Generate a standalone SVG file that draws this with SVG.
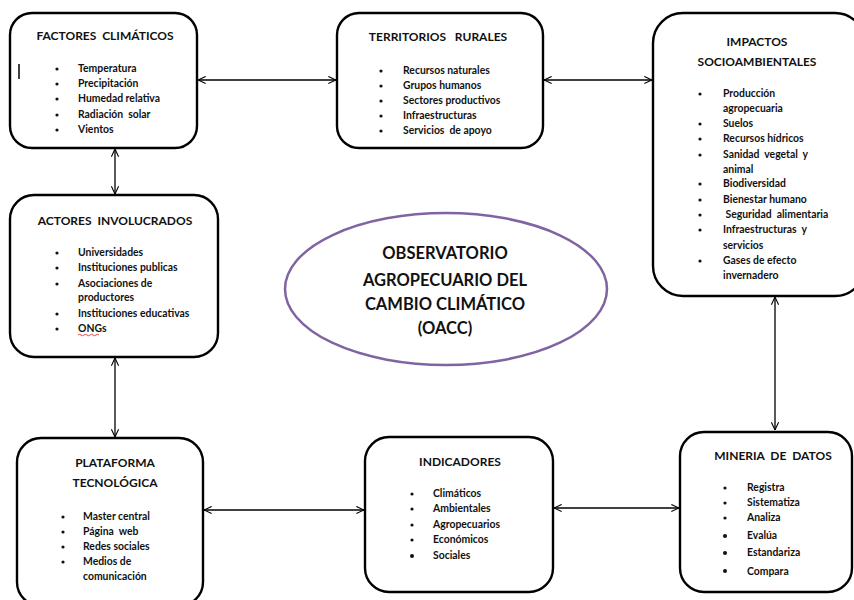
<svg xmlns="http://www.w3.org/2000/svg" width="854" height="600" viewBox="0 0 854 600" xml:space="preserve">
<defs>
<marker id="arr" viewBox="0 0 10 10" refX="9.5" refY="5" markerWidth="9" markerHeight="9" orient="auto-start-reverse" markerUnits="userSpaceOnUse">
<path d="M1,1 L9.5,5 L1,9" fill="none" stroke="#000" stroke-width="1.2"/>
</marker>
<style>
.box{fill:#fff;stroke:#000;stroke-width:2.4}
.t{font-family:Lato,"Open Sans","Liberation Sans",sans-serif;font-weight:bold;font-size:12px;fill:#111;text-anchor:middle;white-space:pre}
.i{font-family:Lato,"Open Sans","Liberation Sans",sans-serif;font-weight:bold;font-size:10.4px;fill:#111;white-space:pre}
.b{fill:#111}
.c{stroke:#000;stroke-width:1.3;fill:none;marker-start:url(#arr);marker-end:url(#arr)}
.m{font-family:Lato,"Open Sans","Liberation Sans",sans-serif;font-weight:bold;font-size:16.5px;fill:#111;text-anchor:middle}
</style>
</defs>
<rect width="854" height="600" fill="#fff"/>
<g id="connectors">
<line class="c" x1="198" y1="80" x2="336" y2="80"/>
<line class="c" x1="544" y1="80" x2="652" y2="80"/>
<line class="c" x1="115" y1="149" x2="115" y2="194"/>
<line class="c" x1="115" y1="358" x2="115" y2="437"/>
<line class="c" x1="775" y1="297" x2="775" y2="430"/>
<line class="c" x1="204" y1="510" x2="364" y2="510"/>
<line class="c" x1="554" y1="508" x2="679" y2="508"/>
</g>
<g id="factores">
<rect class="box" x="10" y="13" width="187" height="135" rx="22"/>
<text class="t" x="105" y="40">FACTORES  CLIMÁTICOS</text>
<line x1="19" y1="64" x2="19" y2="79" stroke="#000" stroke-width="1.5"/>
<g class="b"><circle cx="57" cy="69" r="1.6"/><circle cx="57" cy="84" r="1.6"/><circle cx="57" cy="99" r="1.6"/><circle cx="57" cy="115" r="1.6"/><circle cx="57" cy="130" r="1.6"/></g>
<text class="i" x="78" y="72">Temperatura</text>
<text class="i" x="78" y="87">Precipitación</text>
<text class="i" x="78" y="102">Humedad relativa</text>
<text class="i" x="78" y="118">Radiación  solar</text>
<text class="i" x="78" y="133">Vientos</text>
</g>
<g id="territorios">
<rect class="box" x="337" y="13" width="206" height="135" rx="22"/>
<text class="t" x="438" y="41">TERRITORIOS   RURALES</text>
<g class="b"><circle cx="381" cy="71" r="1.6"/><circle cx="381" cy="86" r="1.6"/><circle cx="381" cy="101" r="1.6"/><circle cx="381" cy="116" r="1.6"/><circle cx="381" cy="131" r="1.6"/></g>
<text class="i" x="403" y="74">Recursos naturales</text>
<text class="i" x="403" y="89">Grupos humanos</text>
<text class="i" x="403" y="104">Sectores productivos</text>
<text class="i" x="403" y="119">Infraestructuras</text>
<text class="i" x="403" y="134">Servicios  de apoyo</text>
</g>
<g id="impactos">
<rect class="box" x="653" y="13" width="212" height="283" rx="30"/>
<text class="t" x="757" y="46">IMPACTOS</text>
<text class="t" x="757" y="66">SOCIOAMBIENTALES</text>
<g class="b"><circle cx="700" cy="94" r="1.6"/><circle cx="700" cy="124" r="1.6"/><circle cx="700" cy="139" r="1.6"/><circle cx="700" cy="155" r="1.6"/><circle cx="700" cy="184" r="1.6"/><circle cx="700" cy="200" r="1.6"/><circle cx="700" cy="215" r="1.6"/><circle cx="700" cy="230" r="1.6"/><circle cx="700" cy="261" r="1.6"/></g>
<text class="i" x="723" y="97">Producción</text>
<text class="i" x="723" y="112">agropecuaria</text>
<text class="i" x="723" y="127">Suelos</text>
<text class="i" x="723" y="142">Recursos hídricos</text>
<text class="i" x="723" y="158">Sanidad  vegetal  y</text>
<text class="i" x="723" y="173">animal</text>
<text class="i" x="723" y="187">Biodiversidad</text>
<text class="i" x="723" y="203">Bienestar humano</text>
<text class="i" x="723" y="218"> Seguridad  alimentaria</text>
<text class="i" x="723" y="233">Infraestructuras  y</text>
<text class="i" x="723" y="249">servicios</text>
<text class="i" x="723" y="264">Gases de efecto</text>
<text class="i" x="723" y="279">invernadero</text>
</g>
<g id="actores">
<rect class="box" x="10" y="195" width="208" height="162" rx="24"/>
<text class="t" x="115" y="225">ACTORES  INVOLUCRADOS</text>
<g class="b"><circle cx="57" cy="253" r="1.6"/><circle cx="57" cy="268" r="1.6"/><circle cx="57" cy="284" r="1.6"/><circle cx="57" cy="314" r="1.6"/><circle cx="57" cy="329" r="1.6"/></g>
<text class="i" x="78" y="256">Universidades</text>
<text class="i" x="78" y="271">Instituciones publicas</text>
<text class="i" x="78" y="287">Asociaciones de</text>
<text class="i" x="78" y="301">productores</text>
<text class="i" x="78" y="317">Instituciones educativas</text>
<text class="i" x="78" y="332">ONGs</text>
<path d="M78,335 q1.5,-1.5 3,0 t3,0 t3,0 t3,0 t3,0 t3,0 t3,0" fill="none" stroke="#e03030" stroke-width="0.9"/>
</g>
<g id="plataforma">
<rect class="box" x="17" y="438" width="186" height="168" rx="24"/>
<text class="t" x="115" y="467">PLATAFORMA</text>
<text class="t" x="115" y="487">TECNOLÓGICA</text>
<g class="b"><circle cx="63" cy="517" r="1.6"/><circle cx="63" cy="532" r="1.6"/><circle cx="63" cy="547" r="1.6"/><circle cx="63" cy="562" r="1.6"/></g>
<text class="i" x="83" y="520">Master central</text>
<text class="i" x="83" y="535">Página  web</text>
<text class="i" x="83" y="550">Redes sociales</text>
<text class="i" x="83" y="565">Medios de</text>
<text class="i" x="83" y="580">comunicación</text>
</g>
<g id="indicadores">
<rect class="box" x="365" y="437" width="188" height="155" rx="24"/>
<text class="t" x="460" y="466">INDICADORES</text>
<g class="b"><circle cx="412" cy="494" r="1.6"/><circle cx="412" cy="509" r="1.6"/><circle cx="412" cy="525" r="1.6"/><circle cx="412" cy="540" r="1.6"/><circle cx="412" cy="556" r="2"/></g>
<text class="i" x="433" y="497">Climáticos</text>
<text class="i" x="433" y="512">Ambientales</text>
<text class="i" x="433" y="528">Agropecuarios</text>
<text class="i" x="433" y="543">Económicos</text>
<text class="i" x="433" y="559">Sociales</text>
</g>
<g id="mineria">
<rect class="box" x="680" y="432" width="172" height="160" rx="24"/>
<text class="t" x="773" y="460">MINERIA  DE  DATOS</text>
<g class="b"><circle cx="725" cy="488" r="1.6"/><circle cx="725" cy="503" r="1.6"/><circle cx="725" cy="518" r="1.6"/><circle cx="725" cy="536" r="2"/><circle cx="725" cy="553" r="2"/><circle cx="725" cy="571" r="2"/></g>
<text class="i" x="747" y="491">Registra</text>
<text class="i" x="747" y="506">Sistematiza</text>
<text class="i" x="747" y="521">Analiza</text>
<text class="i" x="747" y="539">Evalúa</text>
<text class="i" x="747" y="556">Estandariza</text>
<text class="i" x="747" y="575">Compara</text>
</g>
<g id="observatorio">
<ellipse cx="446" cy="289" rx="161" ry="76" fill="#fff" stroke="#8064A2" stroke-width="2.5"/>
<text class="m" x="445" y="259">OBSERVATORIO</text>
<text class="m" x="445" y="286">AGROPECUARIO DEL</text>
<text class="m" x="445" y="310">CAMBIO CLIMÁTICO</text>
<text class="m" x="445" y="334">(OACC)</text>
</g>
</svg>
